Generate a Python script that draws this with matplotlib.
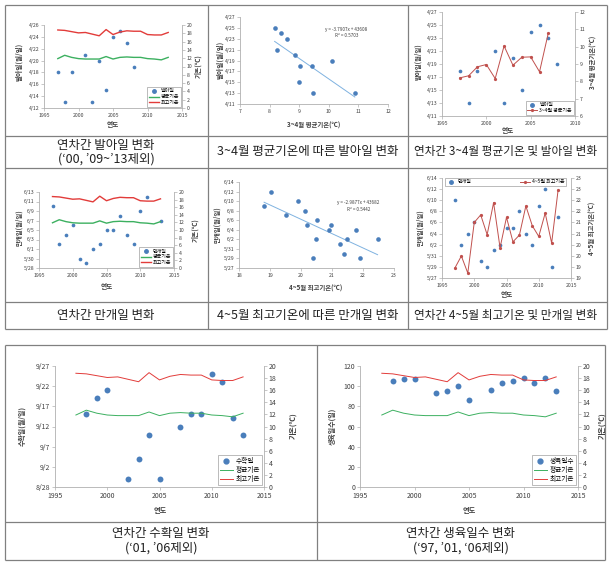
import matplotlib
matplotlib.use('Agg')
import matplotlib.pyplot as plt
from matplotlib.ticker import FuncFormatter, FixedLocator
from matplotlib.lines import Line2D
import numpy as np
from datetime import date

plt.rcParams['font.family'] = ['Noto Sans CJK KR', 'DejaVu Sans']

W, H = 615, 570

# ---------------- data ----------------
years_all = list(range(1997, 2014))
mean_temp = [11.9, 12.7, 12.2, 11.9, 11.8, 11.8, 11.8, 12.4, 11.8, 12.2, 12.3, 12.2, 12.2, 11.9, 11.8, 11.6, 12.2]
max_temp = [18.8, 18.7, 18.4, 18.1, 18.2, 17.8, 17.4, 18.9, 17.7, 18.3, 18.6, 18.5, 18.5, 17.7, 17.6, 17.6, 18.2]

germ_years = [1997, 1998, 1999, 2001, 2002, 2003, 2004, 2005, 2006, 2007, 2008]
germ_dates = ["4/18", "4/13", "4/18", "4/21", "4/13", "4/20", "4/15", "4/24", "4/25", "4/23", "4/19"]

germ_temp_x = [8.17, 8.37, 8.58, 8.24, 8.87, 9.02, 9.42, 10.1, 9.0, 9.46, 10.88]
germ_temp_dates = ["4/25", "4/24", "4/23", "4/21", "4/20", "4/18", "4/18", "4/19", "4/15", "4/13", "4/13"]

mar_apr_years = list(range(1997, 2008))
mar_apr_temp = [8.2, 8.32, 8.84, 8.97, 8.16, 10.04, 8.93, 9.39, 9.41, 8.55, 10.81]

bloom_years = list(range(1997, 2014))
bloom_dates = ["6/10", "6/2", "6/4", "6/6", "5/30", "5/29", "6/1", "6/2", "6/5", "6/5",
               "6/8", "6/4", "6/2", "6/9", "6/12", "5/29", "6/7"]

bloom_temp_x = [18.81, 19.02, 19.53, 19.9, 20.13, 20.2, 20.5, 20.47, 20.39, 20.97, 20.9,
                21.27, 21.47, 21.4, 21.77, 21.9, 22.47]
bloom_temp_dates = ["6/9", "6/12", "6/7", "6/10", "6/8", "6/5", "6/6", "6/2", "5/29", "6/5", "6/4",
                    "6/1", "6/2", "5/30", "6/4", "5/29", "6/2"]

apr_may_max = [18.95, 19.49, 18.72, 21.0, 21.34, 20.45, 21.89, 19.86, 21.23, 20.13, 20.43,
               21.74, 20.85, 20.37, 21.42, 20.07, 22.46]

harv_years = [1998, 1999, 2000, 2002, 2003, 2004, 2005, 2007, 2008, 2009, 2010, 2011, 2012, 2013]
harv_dates = ["9/15", "9/19", "9/21", "8/30", "9/4", "9/10", "8/30", "9/12", "9/15", "9/15",
              "9/25", "9/23", "9/14", "9/10"]

grow_years = [1998, 1999, 2000, 2002, 2003, 2004, 2005, 2007, 2008, 2009, 2010, 2011, 2012, 2013]
grow_days = [105, 107, 107, 93, 95, 100, 86, 96, 103, 105, 108, 103, 108, 95]

eq_germ = ["y = -3.7907x + 43608", "R² = 0.5703"]
eq_bloom = ["y = -2.9877x + 43682", "R² = 0.5442"]

captions = {
    1: "연차간 발아일 변화\n(‘00, ’09~’13제외)",
    2: "3~4월 평균기온에 따른 발아일 변화",
    3: "연차간 3~4월 평균기온 및 발아일 변화",
    4: "연차간 만개일 변화",
    5: "4~5월 최고기온에 따른 만개일 변화",
    6: "연차간 4~5월 최고기온 및 만개일 변화",
    7: "연차간 수확일 변화\n(‘01, ’06제외)",
    8: "연차간 생육일수 변화\n(‘97, ’01, ‘06제외)",
}

BLUE = '#4a7ebb'
RED = '#e23c3a'
GREEN = '#3cb060'
DRED = '#c0504d'
TREND = '#7fb2e0'
SP = '#b0b0b0'
TXT = '#404040'


def doy(s):
    m, d = map(int, s.split('/'))
    return date(2001, m, d).toordinal()


def dfmt(v, p):
    dd = date.fromordinal(int(round(v)))
    return f"{dd.month}/{dd.day}"


def rect(l, t, r, b):
    return [l / W, 1 - b / H, (r - l) / W, (b - t) / H]


def style(ax, fs, right=False):
    for s in ['top', 'right', 'left', 'bottom']:
        ax.spines[s].set_visible(False)
    if right:
        ax.spines['right'].set_visible(True)
        ax.spines['right'].set_color(SP)
        ax.spines['right'].set_linewidth(0.6)
    else:
        for s in ['left', 'bottom']:
            ax.spines[s].set_visible(True)
            ax.spines[s].set_color(SP)
            ax.spines[s].set_linewidth(0.6)
    ax.tick_params(length=2, width=0.5, color=SP, labelsize=fs, labelcolor=TXT, pad=1.5)
    ax.set_facecolor('none')


def date_axis(ax, start, end, step):
    a, b = doy(start), doy(end)
    ax.set_ylim(a, b)
    ax.yaxis.set_major_locator(FixedLocator(np.arange(a, b + 0.1, step)))
    ax.yaxis.set_major_formatter(FuncFormatter(dfmt))


def legend(ax, handles, labels, fs, **kw):
    opts = dict(fontsize=fs, frameon=True, fancybox=False, framealpha=1,
                edgecolor='#a0a0a0', borderpad=0.3, labelspacing=0.15, handletextpad=0.4,
                handlelength=2.0, borderaxespad=0.3)
    opts.update(kw)
    lg = ax.legend(handles, labels, **opts)
    lg.get_frame().set_linewidth(0.5)
    return lg


fig = plt.figure(figsize=(W / 100, H / 100), dpi=100)

bg = fig.add_axes([0, 0, 1, 1], zorder=-5)
bg.set_xlim(0, W)
bg.set_ylim(H, 0)
bg.axis('off')

LC = '#808080'
LW = 0.9
for (x0, y0, x1, y1) in [(5, 5, 607, 5), (5, 329, 607, 329), (5, 5, 5, 329), (607, 5, 607, 329),
                         (5, 136, 607, 136), (5, 168, 607, 168), (5, 302, 607, 302),
                         (208, 5, 208, 329), (408, 5, 408, 329),
                         (5, 345, 605, 345), (5, 560, 605, 560), (5, 345, 5, 560), (605, 345, 605, 560),
                         (5, 522, 605, 522), (317, 345, 317, 560)]:
    bg.plot([x0, x1], [y0, y1], color=LC, lw=LW, solid_capstyle='butt')

CK = dict(ha='center', va='center', color='#222222')
bg.text(106, 152, captions[1], linespacing=1.1, fontsize=9.0, **CK)
bg.text(308, 152, captions[2], fontsize=9.0, **CK)
bg.text(506, 152, captions[3], fontsize=8.4, **CK)
bg.text(106, 316, captions[4], fontsize=9.0, **CK)
bg.text(308, 316, captions[5], fontsize=9.0, **CK)
bg.text(506, 316, captions[6], fontsize=8.4, **CK)
bg.text(161, 541, captions[7], linespacing=1.15, fontsize=9.0, **CK)
bg.text(461, 541, captions[8], linespacing=1.15, fontsize=9.0, **CK)


def label(x, y, s, fs, rot=0):
    bg.text(x, y, s, ha='center', va='center', fontsize=fs, rotation=rot, fontweight='bold', color=TXT)


FS_S = 3.7
FS_B = 5.0

# ---------- chart 1 ----------
ax = fig.add_axes(rect(44, 25, 182, 108))
style(ax, FS_S)
ax.scatter(germ_years, [doy(s) for s in germ_dates], s=7, color=BLUE, zorder=3, linewidths=0)
ax.set_xlim(1995, 2015)
ax.set_xticks([1995, 2000, 2005, 2010, 2015])
date_axis(ax, "4/12", "4/26", 2)
ax2 = ax.twinx()
style(ax2, FS_S, right=True)
ax2.plot(years_all, mean_temp, color=GREEN, lw=1.0)
ax2.plot(years_all, max_temp, color=RED, lw=1.0)
ax2.set_ylim(0, 20)
ax2.set_yticks(range(0, 21, 2))
h = [Line2D([], [], ls='none', marker='o', ms=2.5, color=BLUE),
     Line2D([], [], color=GREEN, lw=1.0), Line2D([], [], color=RED, lw=1.0)]
legend(ax2, h, ['발아일', '평균기온', '최고기온'], 3.6, loc='lower right')
label(19, 62, '발아일(월/일)', 4.8, 90)
label(198, 66, '기온(℃)', 4.8, 90)
label(113, 125, '연도', 4.8)

# ---------- chart 2 ----------
ax = fig.add_axes(rect(240, 17, 388, 104))
style(ax, FS_S)
xs = np.array(germ_temp_x)
ys = np.array([doy(s) for s in germ_temp_dates], dtype=float)
ax.scatter(xs, ys, s=11, color=BLUE, zorder=3, linewidths=0)
k, c = np.polyfit(xs, ys, 1)
xx = np.array([xs.min(), xs.max()])
ax.plot(xx, k * xx + c, color=TREND, lw=0.7)
ax.set_xlim(7, 12)
ax.set_xticks(range(7, 13))
date_axis(ax, "4/11", "4/27", 2)
ax.text(0.72, 0.82, eq_germ[0] + "\n" + eq_germ[1], transform=ax.transAxes, fontsize=3.3,
        ha='center', va='center', color=TXT, linespacing=1.3)
label(220, 60, '발아일(월/일)', 4.8, 90)
label(314, 125, '3~4월 평균기온(℃)', 4.6)

# ---------- chart 3 ----------
ax = fig.add_axes(rect(442, 12, 575, 116))
style(ax, FS_S)
ax.scatter(germ_years, [doy(s) for s in germ_dates], s=7, color=BLUE, zorder=3, linewidths=0)
ax.set_xlim(1995, 2010)
ax.set_xticks([1995, 2000, 2005, 2010])
date_axis(ax, "4/11", "4/27", 2)
ax2 = ax.twinx()
style(ax2, FS_S, right=True)
ax2.plot(mar_apr_years, mar_apr_temp, color=DRED, lw=0.7, marker='o', ms=1.3)
ax2.set_ylim(6, 12)
ax2.set_yticks(range(6, 13))
h = [Line2D([], [], ls='none', marker='o', ms=2.5, color=BLUE),
     Line2D([], [], color=DRED, lw=0.7, marker='o', ms=1.3)]
legend(ax2, h, ['발아일', '3~4월 평균기온'], 3.6, loc='lower right')
label(418, 62, '발아일(월/일)', 4.6, 90)
label(593, 62, '3~4월 평균기온(℃)', 4.6, 90)
label(508, 130, '연도', 4.8)

# ---------- chart 4 ----------
ax = fig.add_axes(rect(39, 192, 174, 268))
style(ax, FS_S)
ax.scatter(bloom_years, [doy(s) for s in bloom_dates], s=7, color=BLUE, zorder=3, linewidths=0)
ax.set_xlim(1995, 2015)
ax.set_xticks([1995, 2000, 2005, 2010, 2015])
date_axis(ax, "5/28", "6/13", 2)
ax2 = ax.twinx()
style(ax2, FS_S, right=True)
ax2.plot(years_all, mean_temp, color=GREEN, lw=1.0)
ax2.plot(years_all, max_temp, color=RED, lw=1.0)
ax2.set_ylim(0, 20)
ax2.set_yticks(range(0, 21, 2))
h = [Line2D([], [], ls='none', marker='o', ms=2.5, color=BLUE),
     Line2D([], [], color=GREEN, lw=1.0), Line2D([], [], color=RED, lw=1.0)]
legend(ax2, h, ['만개일', '평균기온', '최고기온'], 3.6, loc='lower right')
label(19, 228, '만개일(월/일)', 4.6, 90)
label(195, 230, '기온(℃)', 4.8, 90)
label(107, 287, '연도', 4.8)

# ---------- chart 5 ----------
ax = fig.add_axes(rect(239, 182, 394, 268))
style(ax, FS_S)
xs = np.array(bloom_temp_x)
ys = np.array([doy(s) for s in bloom_temp_dates], dtype=float)
ax.scatter(xs, ys, s=11, color=BLUE, zorder=3, linewidths=0)
k, c = np.polyfit(xs, ys, 1)
xx = np.array([xs.min(), xs.max()])
ax.plot(xx, k * xx + c, color=TREND, lw=0.7)
ax.set_xlim(18, 23)
ax.set_xticks(range(18, 24))
date_axis(ax, "5/27", "6/14", 2)
ax.text(0.77, 0.72, eq_bloom[0] + "\n" + eq_bloom[1], transform=ax.transAxes, fontsize=3.3,
        ha='center', va='center', color=TXT, linespacing=1.3)
label(217, 225, '만개일(월/일)', 4.6, 90)
label(316, 288, '4~5월 최고기온(℃)', 4.6)

# ---------- chart 6 ----------
ax = fig.add_axes(rect(442, 178, 571, 278))
style(ax, FS_S)
ax.scatter(bloom_years, [doy(s) for s in bloom_dates], s=7, color=BLUE, zorder=3, linewidths=0)
ax.set_xlim(1995, 2015)
ax.set_xticks([1995, 2000, 2005, 2010, 2015])
date_axis(ax, "5/27", "6/14", 2)
ax2 = ax.twinx()
style(ax2, FS_S, right=True)
ax2.plot(bloom_years, apr_may_max, color=DRED, lw=0.7, marker='o', ms=1.3)
ax2.set_ylim(18.5, 23)
ax2.set_yticks(np.arange(18.5, 23.01, 0.5))
ax2.yaxis.set_major_formatter(FuncFormatter(lambda v, p: f"{int(np.floor(v + 0.5))}"))
h = [Line2D([], [], ls='none', marker='o', ms=2.5, color=BLUE),
     Line2D([], [], color=DRED, lw=0.7, marker='o', ms=1.3)]
legend(ax2, h, ['만개일', '4~5월 최고기온'], 3.6, loc='upper left', ncol=2, mode='expand',
       bbox_to_anchor=(0.02, 1.0, 0.94, 0.0), borderaxespad=0.0, borderpad=0.25)
label(420, 228, '만개일(월/일)', 4.6, 90)
label(592, 228, '4~5월 최고기온(℃)', 4.6, 90)
label(507, 295, '연도', 4.8)

# ---------- chart 7 ----------
ax = fig.add_axes(rect(55, 366, 264, 487))
style(ax, FS_B)
ax.scatter(harv_years, [doy(s) for s in harv_dates], s=18, color=BLUE, zorder=3, linewidths=0)
ax.set_xlim(1995, 2015)
ax.set_xticks([1995, 2000, 2005, 2010, 2015])
date_axis(ax, "8/28", "9/27", 5)
ax2 = ax.twinx()
style(ax2, FS_B, right=True)
ax2.plot(years_all, mean_temp, color=GREEN, lw=0.7)
ax2.plot(years_all, max_temp, color=RED, lw=0.7)
ax2.set_ylim(0, 20)
ax2.set_yticks(range(0, 21, 2))
h = [Line2D([], [], ls='none', marker='o', ms=3.5, color=BLUE),
     Line2D([], [], color=GREEN, lw=0.7), Line2D([], [], color=RED, lw=0.7)]
legend(ax2, h, ['수확일', '평균기온', '최고기온'], 4.8, loc='lower right')
label(22, 426, '수확일(월/일)', 5.0, 90)
label(293, 426, '기온(℃)', 5.4, 90)
label(160, 510, '연도', 5.2)

# ---------- chart 8 ----------
ax = fig.add_axes(rect(360, 366, 578, 487))
style(ax, FS_B)
ax.scatter(grow_years, grow_days, s=18, color=BLUE, zorder=3, linewidths=0)
ax.set_xlim(1995, 2015)
ax.set_xticks([1995, 2000, 2005, 2010, 2015])
ax.set_ylim(0, 120)
ax.set_yticks(range(0, 121, 20))
ax2 = ax.twinx()
style(ax2, FS_B, right=True)
ax2.plot(years_all, mean_temp, color=GREEN, lw=0.7)
ax2.plot(years_all, max_temp, color=RED, lw=0.7)
ax2.set_ylim(0, 20)
ax2.set_yticks(range(0, 21, 2))
h = [Line2D([], [], ls='none', marker='o', ms=3.5, color=BLUE),
     Line2D([], [], color=GREEN, lw=0.7), Line2D([], [], color=RED, lw=0.7)]
legend(ax2, h, ['생육일수', '평균기온', '최고기온'], 4.8, loc='lower right')
label(332, 426, '생육일수(일)', 5.0, 90)
label(602, 426, '기온(℃)', 5.4, 90)
label(469, 510, '연도', 5.2)

fig.savefig('out.png', dpi=100, facecolor='white')
